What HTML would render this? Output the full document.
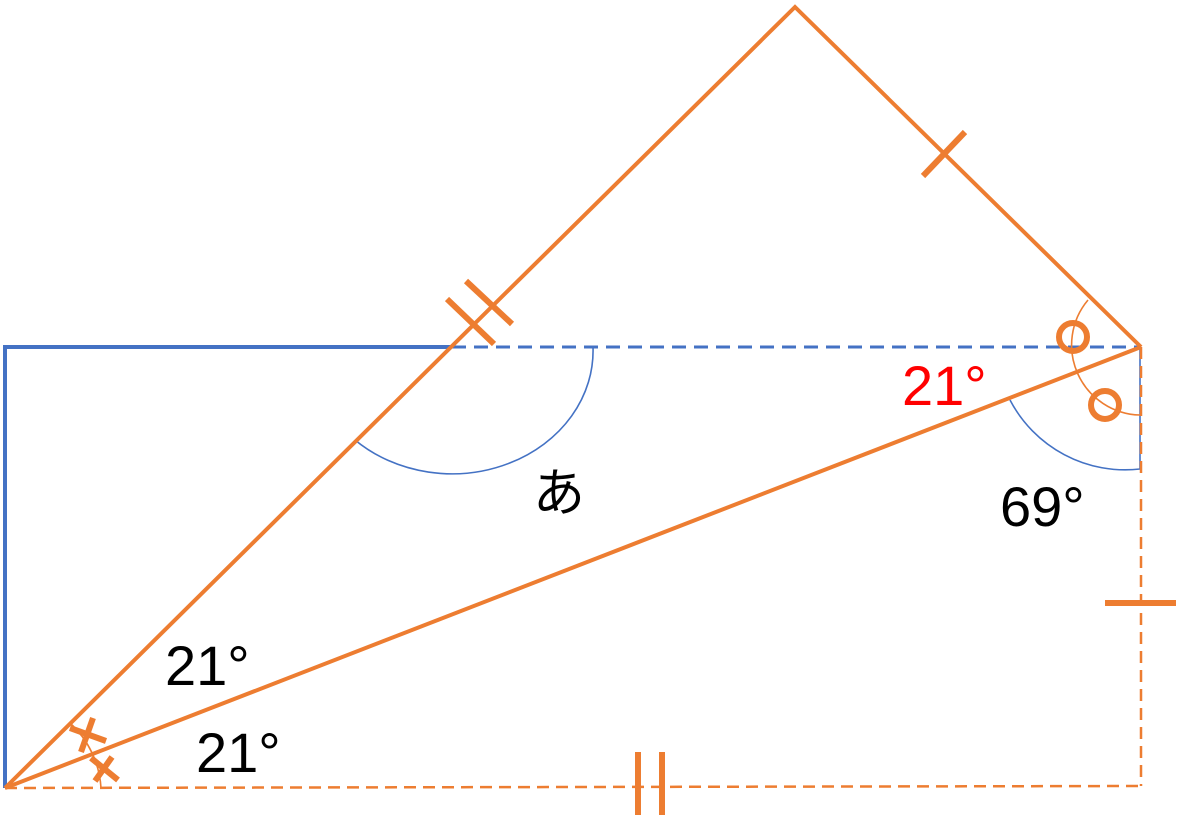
<!DOCTYPE html>
<html><head><meta charset="utf-8"><style>html,body{margin:0;padding:0;background:#fff}svg{display:block}</style></head><body>
<svg width="1182" height="834" viewBox="0 0 1182 834" xmlns="http://www.w3.org/2000/svg">
<g fill="none">
<polyline points="5,788 5,347 452,347" stroke="#4472C4" stroke-width="4"/>
<line x1="452" y1="347" x2="1141" y2="347" stroke="#4472C4" stroke-width="3" stroke-dasharray="14,8"/>
<path d="M355,440 A141,123 0 0 0 593,347" stroke="#4472C4" stroke-width="1.6"/>
<path d="M1010,400 A130,130 0 0 0 1140,469 L1140,347" stroke="#4472C4" stroke-width="1.6"/>
<line x1="5" y1="788" x2="1141" y2="786" stroke="#ED7D31" stroke-width="2.5" stroke-dasharray="12,7"/>
<line x1="1141" y1="347" x2="1141" y2="786" stroke="#ED7D31" stroke-width="2.5" stroke-dasharray="12,7"/>
<polyline points="5,788 795,7 1141,347" stroke="#ED7D31" stroke-width="4"/>
<line x1="5" y1="788" x2="1141" y2="347" stroke="#ED7D31" stroke-width="4"/>
<path d="M1088,300 A70,70 0 0 0 1140,415" stroke="#ED7D31" stroke-width="1.6"/>
<path d="M70,723 A96,96 0 0 1 101,788" stroke="#ED7D31" stroke-width="1.6"/>
<circle cx="1073" cy="337" r="14" stroke="#ED7D31" stroke-width="6"/>
<circle cx="1105" cy="405" r="14" stroke="#ED7D31" stroke-width="6"/>
<g stroke="#ED7D31" stroke-width="6">
<line x1="922" y1="133" x2="966" y2="175" transform="rotate(90 944 154)"/>
<line x1="447" y1="299" x2="494" y2="344"/>
<line x1="466" y1="281" x2="512" y2="324"/>
<line x1="1105" y1="603" x2="1176" y2="603"/>
<line x1="638" y1="752" x2="638" y2="815"/>
<line x1="662" y1="752" x2="662" y2="815"/>
<line x1="70" y1="728" x2="106" y2="741"/><line x1="93" y1="718" x2="81" y2="752"/>
<line x1="91" y1="758" x2="118" y2="780"/><line x1="112" y1="757" x2="95" y2="781"/>
</g>
</g>
<g font-family="Liberation Sans, 'Noto Sans CJK JP', sans-serif" font-size="56">
<text x="902" y="405" fill="#FF0000">21°</text>
<text x="1000" y="526" fill="#000">69°</text>
<text x="165" y="685" fill="#000">21°</text>
<text x="196" y="772" fill="#000">21°</text>
<text x="533" y="511" fill="#000" font-family="'Noto Sans CJK JP', sans-serif" font-size="52">あ</text>
</g>
</svg>
</body></html>
